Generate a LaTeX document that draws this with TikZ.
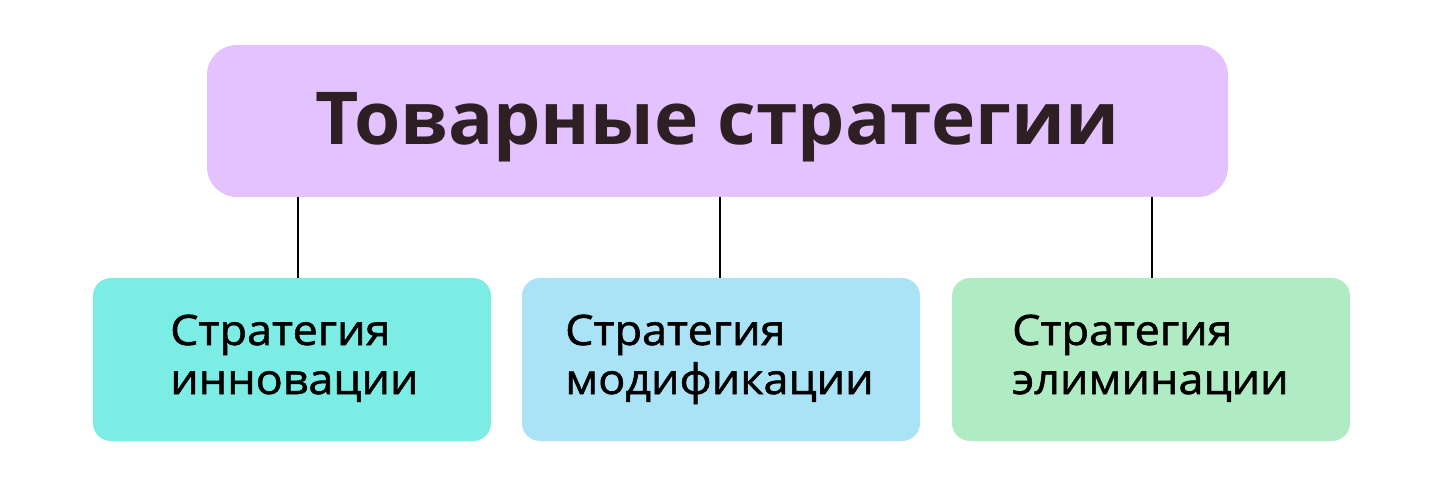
\documentclass[tikz,border=0pt]{standalone}
\usepackage{fontspec}
\setmainfont{Open Sans}
\newfontfamily\titlefont[FakeStretch=1.026]{Open Sans}
\newfontfamily\boxfont[FakeStretch=1.07, FakeBold=1.3]{Open Sans}
\definecolor{titlebg}{HTML}{E4C1FF}
\definecolor{titletx}{HTML}{2E1F24}
\definecolor{bcyan}{HTML}{7CEDE4}
\definecolor{bblue}{HTML}{A9E3F5}
\definecolor{bgreen}{HTML}{AFEBC3}
\tikzset{
  sbox/.style={rounded corners=18pt, minimum width=398pt, minimum height=163pt, inner sep=0pt, draw=none},
  btext/.style={anchor=base west, inner sep=0pt, font=\boxfont\fontsize{42}{49}\selectfont, text=black},
  conn/.style={draw=black, line width=2pt},
}
\begin{document}
\begin{tikzpicture}[x=1pt,y=-1pt]
\useasboundingbox (0,0) rectangle (1440,494);
\fill[white] (0,0) rectangle (1440,494);
\node[fill=titlebg, rounded corners=30pt, minimum width=1021pt, minimum height=152pt, inner sep=0pt] (title) at (717.5,121) {};
\node[anchor=base, inner sep=0pt, font=\titlefont\fontsize{73}{80}\selectfont\bfseries, text=titletx] (tt) at (717.5,145) {Товарные стратегии};
\node[sbox, fill=bcyan] (b1) at (292,359.5) {};
\node[sbox, fill=bblue] (b2) at (721,359.5) {};
\node[sbox, fill=bgreen] (b3) at (1151,359.5) {};
\coordinate (c1) at (298,0);
\coordinate (c2) at (720,0);
\coordinate (c3) at (1152,0);
\draw[conn] (title.south -| c1) -- (b1.north -| c1);
\draw[conn] (title.south -| c2) -- (b2.north -| c2);
\draw[conn] (title.south -| c3) -- (b3.north -| c3);
\node[btext] (t1a) at (170,345) {Стратегия};
\node[btext] (t1b) at (170,394) {инновации};
\node[btext] (t2a) at (565,345) {Стратегия};
\node[btext] (t2b) at (565,394) {модификации};
\node[btext] (t3a) at (1012,345) {Стратегия};
\node[btext] (t3b) at (1012,394) {элиминации};
\end{tikzpicture}
\end{document}
